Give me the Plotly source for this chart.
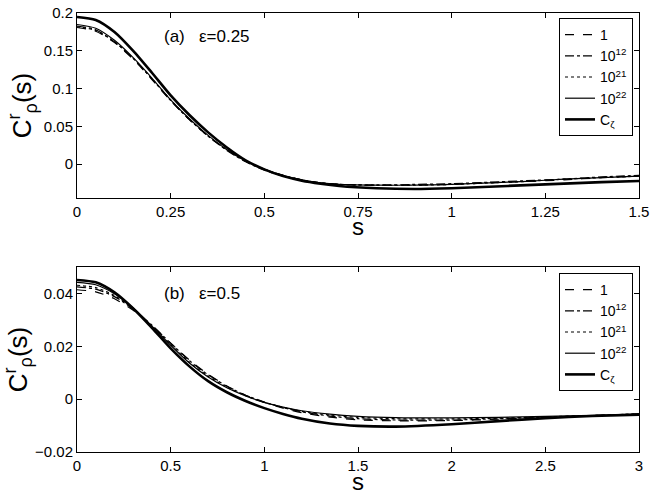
import plotly.graph_objects as go

# ---------------- panel (a): eps = 0.25 ----------------
s_a = [0, 0.05, 0.1, 0.15, 0.2, 0.25, 0.3, 0.35, 0.4, 0.45, 0.5, 0.55, 0.6,
       0.65, 0.7, 0.8, 0.9, 1.0, 1.1, 1.2, 1.3, 1.4, 1.5]
a_1 = [0.181, 0.176, 0.161, 0.139, 0.112, 0.084, 0.059, 0.037, 0.019, 0.004,
       -0.007, -0.015, -0.021, -0.025, -0.027, -0.028, -0.028, -0.027, -0.025,
       -0.023, -0.021, -0.018, -0.016]
a_1e12 = [0.183, 0.178, 0.162, 0.140, 0.113, 0.084, 0.059, 0.037, 0.018, 0.003,
          -0.008, -0.016, -0.021, -0.025, -0.027, -0.028, -0.027, -0.026, -0.024,
          -0.022, -0.020, -0.017, -0.015]
a_1e21 = [0.182, 0.177, 0.162, 0.140, 0.113, 0.085, 0.059, 0.037, 0.019, 0.004,
          -0.007, -0.015, -0.021, -0.025, -0.027, -0.028, -0.028, -0.027, -0.025,
          -0.023, -0.020, -0.018, -0.016]
a_1e22 = [0.185, 0.180, 0.164, 0.141, 0.114, 0.085, 0.060, 0.038, 0.019, 0.004,
          -0.007, -0.015, -0.021, -0.025, -0.027, -0.028, -0.028, -0.027, -0.025,
          -0.023, -0.020, -0.018, -0.016]
a_zeta = [0.195, 0.191, 0.175, 0.150, 0.121, 0.091, 0.065, 0.042, 0.022, 0.005,
          -0.007, -0.016, -0.022, -0.026, -0.029, -0.032, -0.033, -0.032, -0.030,
          -0.028, -0.026, -0.024, -0.0225]

# ---------------- panel (b): eps = 0.5 ----------------
s_b = [0, 0.1, 0.2, 0.3, 0.4, 0.5, 0.6, 0.7, 0.8, 0.9, 1.0, 1.1, 1.2, 1.35,
       1.5, 1.7, 2.0, 2.25, 2.5, 2.75, 3.0]
b_1 = [0.0414, 0.0406, 0.0380, 0.0336, 0.0278, 0.0212, 0.0148, 0.0094, 0.0050,
       0.0015, -0.0012, -0.0034, -0.0051, -0.0068, -0.0078, -0.0082, -0.0081,
       -0.0076, -0.0069, -0.0063, -0.0057]
b_1e12 = [0.0425, 0.0416, 0.0388, 0.0341, 0.0280, 0.0212, 0.0146, 0.0092, 0.0049,
          0.0015, -0.0011, -0.0032, -0.0048, -0.0064, -0.0074, -0.0079, -0.0079,
          -0.0074, -0.0068, -0.0062, -0.0056]
b_1e21 = [0.0431, 0.0422, 0.0392, 0.0342, 0.0277, 0.0207, 0.0140, 0.0087, 0.0045,
          0.0013, -0.0012, -0.0031, -0.0046, -0.0060, -0.0069, -0.0074, -0.0075,
          -0.0072, -0.0067, -0.0062, -0.0056]
b_1e22 = [0.0442, 0.0433, 0.0399, 0.0345, 0.0276, 0.0204, 0.0137, 0.0084, 0.0043,
          0.0012, -0.0012, -0.0030, -0.0044, -0.0057, -0.0065, -0.0070, -0.0071,
          -0.0069, -0.0065, -0.0061, -0.0056]
b_zeta = [0.0451, 0.0442, 0.0404, 0.0343, 0.0270, 0.0192, 0.0124, 0.0068, 0.0026,
          -0.0007, -0.0034, -0.0056, -0.0074, -0.0092, -0.0101, -0.0104, -0.0095,
          -0.0083, -0.0072, -0.0064, -0.0059]

names = ["1", "10<sup>12</sup>", "10<sup>21</sup>", "10<sup>22</sup>", "C<sub>ζ</sub>"]
dashes = ["dash", "dashdot", "dot", "solid", "solid"]
widths = [1.2, 1.2, 1.2, 1.2, 2.6]

xa_ticks = [0, 0.25, 0.5, 0.75, 1, 1.25, 1.5]
xa_text = ["0", "0.25", "0.5", "0.75", "1", "1.25", "1.5"]
ya_ticks = [0, 0.05, 0.1, 0.15, 0.2]
ya_text = ["0", "0.05", "0.1", "0.15", "0.2"]
xb_ticks = [0, 0.5, 1, 1.5, 2, 2.5, 3]
xb_text = ["0", "0.5", "1", "1.5", "2", "2.5", "3"]
yb_ticks = [-0.02, 0, 0.02, 0.04]
yb_text = ["\u22120.02", "0", "0.02", "0.04"]

FONT = "Liberation Sans, Arial, sans-serif"

fig = go.Figure()
series_a = [a_1, a_1e12, a_1e21, a_1e22, a_zeta]
series_b = [b_1, b_1e12, b_1e21, b_1e22, b_zeta]
for nm, ys, d, w in zip(names, series_a, dashes, widths):
    fig.add_trace(go.Scatter(x=s_a, y=ys, mode="lines", name=nm,
                             line=dict(color="black", dash=d, width=w, shape="spline", smoothing=0.7),
                             xaxis="x", yaxis="y", legend="legend"))
for nm, ys, d, w in zip(names, series_b, dashes, widths):
    fig.add_trace(go.Scatter(x=s_b, y=ys, mode="lines", name=nm,
                             line=dict(color="black", dash=d, width=w, shape="spline", smoothing=0.7),
                             xaxis="x2", yaxis="y2", legend="legend2"))

W, H = 654, 498
L, R, T, B = 77, 15, 13, 46
PW, PH = W - L - R, H - T - B


def px(xp):
    return (xp - L) / PW


def py(yp):
    return (H - B - yp) / PH


axis_common = dict(showline=True, linecolor="black", linewidth=1, mirror="ticks",
                   ticks="inside", ticklen=5, tickcolor="black", showgrid=False,
                   zeroline=False, automargin=False, ticklabeloverflow="allow",
                   tickfont=dict(family=FONT, size=15, color="black"))

leg_common = dict(bgcolor="white", bordercolor="black", borderwidth=1,
                  font=dict(family=FONT, size=14, color="black"),
                  xanchor="right", yanchor="top", tracegroupgap=0, itemwidth=30)

ytitle = "C<sup>r</sup><sub>ρ</sub>(s)"

fig.update_layout(
    width=W, height=H, margin=dict(l=L, r=R, t=T, b=B, autoexpand=False),
    paper_bgcolor="white", plot_bgcolor="white",
    font=dict(family=FONT, color="black"),
    xaxis=dict(domain=[0, 1], range=[0, 1.5], anchor="y",
               tickvals=xa_ticks, ticktext=xa_text, **axis_common),
    yaxis=dict(domain=[py(198), 1], range=[-0.045, 0.2002], anchor="x",
               tickvals=ya_ticks, ticktext=ya_text,
               title=dict(text=ytitle, font=dict(family=FONT, size=26), standoff=4),
               **axis_common),
    xaxis2=dict(domain=[0, 1], range=[0, 3], anchor="y2",
                tickvals=xb_ticks, ticktext=xb_text, **axis_common),
    yaxis2=dict(domain=[0, py(267)], range=[-0.02, 0.05], anchor="x2",
                tickvals=yb_ticks, ticktext=yb_text,
                title=dict(text=ytitle, font=dict(family=FONT, size=26), standoff=4),
                **axis_common),
    legend=dict(x=px(633), y=py(18), **leg_common),
    legend2=dict(x=px(633), y=py(273), **leg_common),
    annotations=[
        dict(text="(a)   ε=0.25", x=px(162), y=py(37), xref="paper", yref="paper",
             xanchor="left", yanchor="middle", showarrow=False,
             font=dict(family=FONT, size=17, color="black")),
        dict(text="(b)   ε=0.5", x=px(162), y=py(293), xref="paper", yref="paper",
             xanchor="left", yanchor="middle", showarrow=False,
             font=dict(family=FONT, size=17, color="black")),
        dict(text="s", x=px(358), y=py(227), xref="paper", yref="paper",
             xanchor="center", yanchor="middle", showarrow=False,
             font=dict(family=FONT, size=24, color="black")),
        dict(text="s", x=px(358), y=py(482), xref="paper", yref="paper",
             xanchor="center", yanchor="middle", showarrow=False,
             font=dict(family=FONT, size=24, color="black")),
    ],
)

fig.write_html("out.html", config={"displayModeBar": False},
               post_script="document.body.style.margin='0px';")
